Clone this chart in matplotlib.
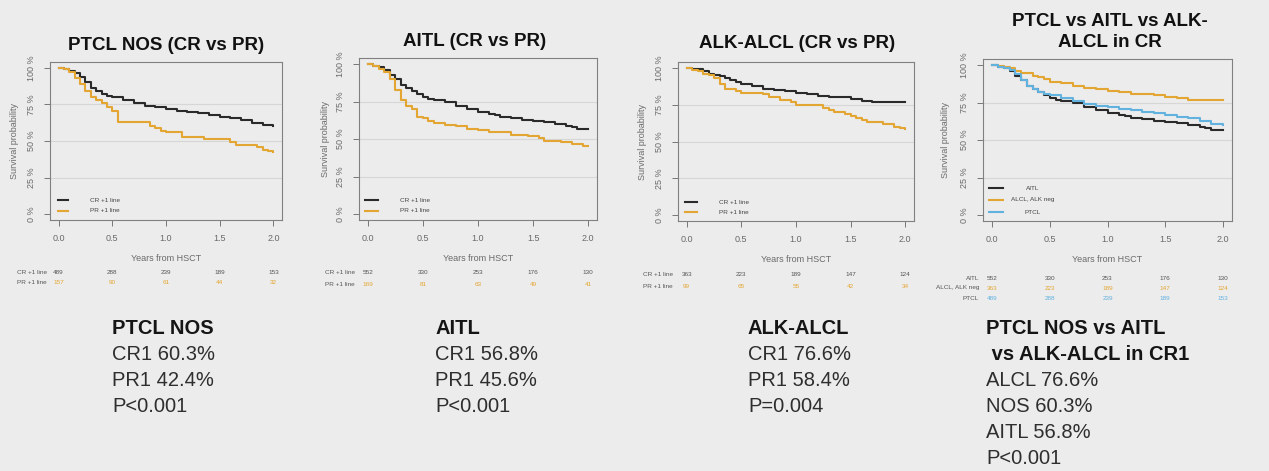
import matplotlib
matplotlib.use("Agg")
import matplotlib.pyplot as plt
from matplotlib.lines import Line2D
from matplotlib.transforms import blended_transform_factory

plt.rcParams['font.family'] = ['Liberation Sans', 'DejaVu Sans']

# ---------------- data ----------------
# PTCL NOS
ptcl_cr_t = [0, 0.05, 0.1, 0.15, 0.2, 0.25, 0.3, 0.35, 0.4, 0.45, 0.5, 0.6, 0.7, 0.8, 0.9, 1.0, 1.1, 1.2, 1.3, 1.4, 1.5, 1.6, 1.7, 1.8, 1.9, 2.0]
ptcl_cr_s = [100, 99, 98, 96.5, 94, 90, 86, 84, 82, 81, 80, 78, 76, 74, 73, 72, 70.5, 70, 69, 68, 66.5, 65.5, 64.5, 62.5, 61, 60.3]
ptcl_pr_t = [0, 0.05, 0.1, 0.15, 0.2, 0.25, 0.3, 0.35, 0.4, 0.45, 0.5, 0.55, 0.85, 0.9, 0.95, 1.0, 1.15, 1.35, 1.6, 1.65, 1.85, 1.9, 1.95, 2.0]
ptcl_pr_s = [100, 99, 97, 93, 89, 84, 80, 78, 76, 73, 70.5, 63, 60, 59, 57, 56, 53, 51.5, 49, 47.5, 46, 44, 43, 42.4]

# AITL
aitl_cr_t = [0, 0.05, 0.1, 0.15, 0.2, 0.25, 0.3, 0.35, 0.4, 0.45, 0.5, 0.55, 0.6, 0.7, 0.8, 0.9, 1.0, 1.1, 1.15, 1.2, 1.3, 1.4, 1.5, 1.6, 1.7, 1.8, 1.85, 1.9, 2.0]
aitl_cr_s = [100, 99, 98, 96, 93, 90, 86, 84, 82, 80, 78, 77, 76, 74.6, 72, 70, 68, 67, 66, 65, 64, 63, 62, 61.5, 60, 59, 58, 56.8, 56.8]
aitl_pr_t = [0, 0.05, 0.1, 0.15, 0.2, 0.25, 0.3, 0.35, 0.4, 0.45, 0.5, 0.55, 0.6, 0.7, 0.8, 0.9, 1.0, 1.1, 1.3, 1.45, 1.55, 1.6, 1.75, 1.85, 1.95, 2.0]
aitl_pr_s = [100, 99, 97, 95, 90, 83, 76, 72, 70, 65, 64, 62, 61, 59.5, 58.5, 57, 55.8, 54.5, 53, 52, 50.5, 49, 48, 47, 45.6, 45.6]

# ALK-negative ALCL
alcl_cr_t = [0, 0.05, 0.1, 0.15, 0.2, 0.25, 0.3, 0.35, 0.4, 0.45, 0.5, 0.6, 0.7, 0.8, 0.9, 1.0, 1.1, 1.2, 1.3, 1.4, 1.5, 1.6, 1.7, 2.0]
alcl_cr_s = [100, 99.5, 99, 98, 96, 95, 94.4, 93, 92, 90.5, 89, 88, 86, 85, 84, 83, 82, 81, 80.5, 80, 79, 77.7, 76.6, 76.6]
alcl_pr_t = [0, 0.05, 0.1, 0.15, 0.2, 0.25, 0.3, 0.35, 0.45, 0.5, 0.7, 0.75, 0.85, 0.95, 1.0, 1.25, 1.3, 1.35, 1.45, 1.5, 1.55, 1.6, 1.65, 1.8, 1.9, 1.95, 2.0]
alcl_pr_s = [100, 98.5, 98, 96, 95, 93, 89, 86, 84.5, 83, 82, 80, 78, 76.5, 75, 73, 71.5, 70, 69, 67.6, 66, 64.7, 63, 61.6, 60, 59.4, 58.4]

risk_times = [0, 0.5, 1.0, 1.5, 2.0]
ptcl_cr_risk = [489, 288, 239, 189, 153]
ptcl_pr_risk = [157, 90, 61, 44, 32]
aitl_cr_risk = [552, 330, 253, 176, 130]
aitl_pr_risk = [169, 81, 63, 49, 41]
alcl_cr_risk = [363, 223, 189, 147, 124]
alcl_pr_risk = [99, 65, 55, 42, 34]

titles = ["PTCL NOS (CR vs PR)", "AITL (CR vs PR)", "ALK-ALCL (CR vs PR)", "PTCL vs AITL vs ALK-\nALCL in CR"]
xticks = [0.0, 0.5, 1.0, 1.5, 2.0]
yticks = [0, 25, 50, 75, 100]
ytick_labels = ["0 %", "25 %", "50 %", "75 %", "100 %"]

summary_blocks = [
    [("PTCL NOS", True), ("CR1 60.3%", False), ("PR1 42.4%", False), ("P<0.001", False)],
    [("AITL", True), ("CR1 56.8%", False), ("PR1 45.6%", False), ("P<0.001", False)],
    [("ALK-ALCL", True), ("CR1 76.6%", False), ("PR1 58.4%", False), ("P=0.004", False)],
    [("PTCL NOS vs AITL", True), (" vs ALK-ALCL in CR1", True), ("ALCL 76.6%", False),
     ("NOS 60.3%", False), ("AITL 56.8%", False), ("P<0.001", False)],
]

# ---------------- style ----------------
BG = "#ececec"
BLACK = "#2a2a2a"
ORANGE = "#e3a633"
BLUE = "#62b2e0"
GREY = "#6a6a6a"

W, H = 1269, 471
fig = plt.figure(figsize=(W / 100, H / 100), dpi=100, facecolor=BG)

def fx(x):
    return x / W

def fy(y):
    return 1 - y / H

def add_axes_px(l, r, t, b):
    return fig.add_axes([fx(l), fy(b), (r - l) / W, (b - t) / H])

panels = [
    dict(box=(50, 282, 62, 220), title_xy=(166, 45), ylab_x=15,
         curves=[(ptcl_cr_t, ptcl_cr_s, BLACK), (ptcl_pr_t, ptcl_pr_s, ORANGE)],
         legend=dict(x0=58, x1=68, tx=90, ys=[200, 211], ha='left',
                     labels=["CR +1 line", "PR +1 line"], colors=[BLACK, ORANGE]),
         risk=dict(lab_x=47, ys=[272, 283], labels=["CR +1 line", "PR +1 line"],
                   rows=[ptcl_cr_risk, ptcl_pr_risk], colors=["#555555", ORANGE]),
         text_x=112),
    dict(box=(359, 597, 58, 220), title_xy=(475, 42), ylab_x=325,
         curves=[(aitl_cr_t, aitl_cr_s, BLACK), (aitl_pr_t, aitl_pr_s, ORANGE)],
         legend=dict(x0=365, x1=378, tx=400, ys=[200, 211], ha='left',
                     labels=["CR +1 line", "PR +1 line"], colors=[BLACK, ORANGE]),
         risk=dict(lab_x=355, ys=[273, 284], labels=["CR +1 line", "PR +1 line"],
                   rows=[aitl_cr_risk, aitl_pr_risk], colors=["#555555", ORANGE]),
         text_x=435),
    dict(box=(678, 914, 62, 221), title_xy=(797, 44), ylab_x=643,
         curves=[(alcl_cr_t, alcl_cr_s, BLACK), (alcl_pr_t, alcl_pr_s, ORANGE)],
         legend=dict(x0=685, x1=697, tx=719, ys=[202, 212], ha='left',
                     labels=["CR +1 line", "PR +1 line"], colors=[BLACK, ORANGE]),
         risk=dict(lab_x=673, ys=[275, 286], labels=["CR +1 line", "PR +1 line"],
                   rows=[alcl_cr_risk, alcl_pr_risk], colors=["#555555", ORANGE]),
         text_x=748),
    dict(box=(983, 1232, 59, 221), title_xy=(1110, 32), ylab_x=945,
         curves=[(aitl_cr_t, aitl_cr_s, BLACK), (alcl_cr_t, alcl_cr_s, ORANGE),
                 (ptcl_cr_t, ptcl_cr_s, BLUE)],
         legend=dict(x0=989, x1=1003, tx=1033, ys=[188, 200, 212], ha='center',
                     labels=["AITL", "ALCL, ALK neg", "PTCL"], colors=[BLACK, ORANGE, BLUE]),
         risk=dict(lab_x=979, ys=[278, 288, 298], labels=["AITL", "ALCL, ALK neg", "PTCL"],
                   rows=[aitl_cr_risk, alcl_cr_risk, ptcl_cr_risk], colors=["#555555", ORANGE, BLUE]),
         text_x=986),
]

for i, p in enumerate(panels):
    l, r, t, b = p['box']
    ax = add_axes_px(l, r, t, b)
    ax.set_facecolor(BG)
    for ts, ss, c in p['curves']:
        ax.step(ts, ss, where='post', color=c, lw=1.5)
    ax.set_xlim(-0.08, 2.08)
    ax.set_ylim(-4, 104)
    for g in [25, 50, 75]:
        ax.axhline(g, color="#d6d6d6", lw=0.8, zorder=0)
    ax.set_xticks(xticks)
    ax.set_xticklabels([f"{v:.1f}" for v in xticks])
    ax.set_yticks(yticks)
    ax.set_yticklabels(ytick_labels, rotation=90, va='center')
    ax.tick_params(axis='both', direction='out', length=4, width=0.7, colors="#777777",
                   labelcolor=GREY, labelsize=6.5, pad=6)
    for sp in ax.spines.values():
        sp.set_color("#808080")
        sp.set_linewidth(0.8)
    ax.set_xlabel("Years from HSCT", fontsize=6.5, color=GREY, labelpad=8)
    fig.text(fx(p['ylab_x']), fy((t + b) / 2), "Survival probability", rotation=90,
             fontsize=6.5, color=GREY, ha='center', va='center')
    # title
    tx, ty = p['title_xy']
    fig.text(fx(tx), fy(ty), titles[i], ha='center', va='center', fontsize=13.5,
             fontweight='bold', color="#111111", linespacing=1.3)
    # legend
    lg = p['legend']
    for yy, lab, c in zip(lg['ys'], lg['labels'], lg['colors']):
        fig.add_artist(Line2D([fx(lg['x0']), fx(lg['x1'])], [fy(yy), fy(yy)],
                              transform=fig.transFigure, color=c, lw=1.5))
        fig.text(fx(lg['tx']), fy(yy), lab, ha=lg['ha'], va='center', fontsize=4.6, color="#444444")
    # risk table
    rk = p['risk']
    trans = blended_transform_factory(ax.transData, fig.transFigure)
    for yy, lab, row, c in zip(rk['ys'], rk['labels'], rk['rows'], rk['colors']):
        fig.text(fx(rk['lab_x']), fy(yy), lab, ha='right', va='center', fontsize=4.6, color="#555555")
        for tv, n in zip(risk_times, row):
            ax.text(tv, fy(yy), str(n), transform=trans, ha='center', va='center',
                    fontsize=4.6, color=c, clip_on=False)
    # summary text block
    for k, (line, bold) in enumerate(summary_blocks[i]):
        fig.text(fx(p['text_x']), fy(328 + 26 * k), line, ha='left', va='center',
                 fontsize=14.5, fontweight='bold' if bold else 'normal',
                 color="#151515" if bold else "#2e2e2e")

fig.savefig("out.png", dpi=100, facecolor=BG)
